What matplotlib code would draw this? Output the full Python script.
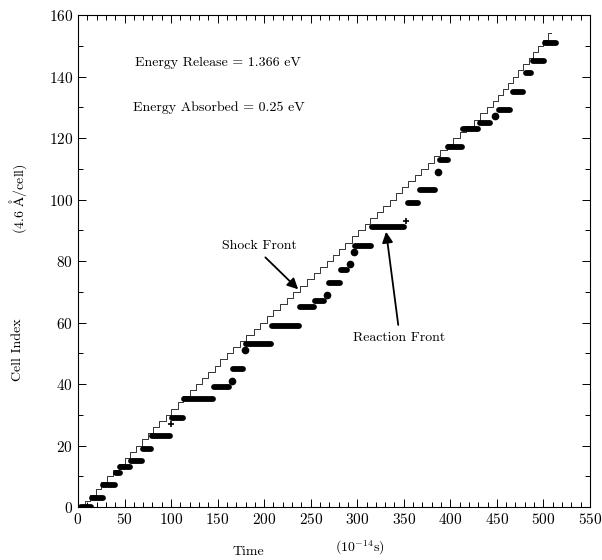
import matplotlib
matplotlib.use('Agg')
import matplotlib.pyplot as plt
from matplotlib.ticker import MultipleLocator

plt.rcParams['font.family'] = 'serif'
plt.rcParams['font.serif'] = ['cmr10', 'DejaVu Serif']
plt.rcParams['mathtext.fontset'] = 'cm'
plt.rcParams['axes.formatter.use_mathtext'] = True

# Shock front: time (1e-14 s) at which the front steps up to each cell index
SHOCK_T = [0, 7, 13, 19, 25, 31, 37.5, 44, 50, 56, 62.5, 69, 75, 81, 87.5, 94, 100,
           107, 113, 120, 127, 133, 140, 147, 153, 160, 167, 174, 181, 189, 196,
           203, 210, 217, 224, 231, 239, 246, 253, 260, 267, 274, 280, 287, 294,
           301, 308, 314, 321, 328, 335, 342, 348, 355, 362, 369, 376, 382, 389,
           396, 403, 410, 417, 425, 432, 439, 446, 451, 457, 462, 467, 473, 478,
           484, 489, 494, 500, 505]
SHOCK_CELL = list(range(0, 156, 2))

# Reaction front plateaus: cell index, start time, end time
PLATEAU_CELL = [0, 3, 7, 11, 13, 15, 19, 23, 29, 35, 39, 45, 53, 59, 65, 67, 73, 77,
                85, 91, 99, 103, 113, 117, 123, 125, 129, 135, 141, 145, 151]
PLATEAU_T0 = [3, 15, 27, 41, 45, 57, 70, 79, 101, 114, 146, 167, 181, 208, 239, 255,
              270, 282, 298, 316, 354, 367, 389, 397, 414, 432, 452, 467, 481, 489, 502]
PLATEAU_T1 = [14, 27, 40, 45, 56, 69, 78, 99, 113, 145, 162, 177, 207, 237, 254, 264,
              281, 289, 315, 350, 365, 384, 397, 412, 430, 443, 464, 478, 487, 501, 514]

# isolated reaction-front points
DOT_T = [165, 179, 268, 292, 296, 387, 448]
DOT_CELL = [41, 51, 69, 79, 83, 109, 127]
CROSS_T = [99.5, 352]
CROSS_CELL = [27, 93]

fig = plt.figure(figsize=(6.02, 5.6), dpi=100)
ax = fig.add_axes([0.1296, 0.0946, 0.8504, 0.8786])

# shock front staircase
ax.plot(SHOCK_T + [SHOCK_T[-1] + 3], SHOCK_CELL + [SHOCK_CELL[-1]],
        drawstyle='steps-post', color='#333333', linewidth=0.7)

# reaction front
for c, t0, t1 in zip(PLATEAU_CELL, PLATEAU_T0, PLATEAU_T1):
    ax.plot([t0, t1], [c, c], color='black', linewidth=4.2, solid_capstyle='round')
ax.plot(DOT_T, DOT_CELL, 'o', color='black', markersize=4.5)
ax.plot(CROSS_T, CROSS_CELL, '+', color='black', markersize=4, mew=1.2)

# annotations
ax.text(61, 144.5, 'Energy Release = 1.366 eV', fontsize=10, va='center', ha='left')
ax.text(59, 130, 'Energy Absorbed = 0.25 eV', fontsize=10, va='center', ha='left')
ax.annotate('Shock Front', xy=(236.5, 70.8), xytext=(195, 85),
            fontsize=10, ha='center', va='center',
            arrowprops=dict(arrowstyle='-|>', color='black', lw=1.3, relpos=(0.5, 0),
                            mutation_scale=16, shrinkA=3, shrinkB=0))
ax.annotate('Reaction Front', xy=(331, 89.5), xytext=(345, 55),
            fontsize=10, ha='center', va='center',
            arrowprops=dict(arrowstyle='-|>', color='black', lw=1.3, relpos=(0.5, 1),
                            mutation_scale=16, shrinkA=3, shrinkB=0))

ax.set_xlim(0, 550)
ax.set_ylim(0, 160)
ax.xaxis.set_major_locator(MultipleLocator(50))
ax.xaxis.set_minor_locator(MultipleLocator(10))
ax.yaxis.set_major_locator(MultipleLocator(20))
ax.yaxis.set_minor_locator(MultipleLocator(10))
ax.tick_params(which='both', direction='in', top=True, right=True,
               labelsize=11, width=0.7)
ax.tick_params(which='major', length=6)
ax.tick_params(which='minor', length=3.5)
for s in ax.spines.values():
    s.set_linewidth(0.8)

fig.text(0.413, 0.003, 'Time', fontsize=10, ha='center', va='bottom')
fig.text(0.598, 0.006, r'$(10^{-14}$s$)$', fontsize=10, ha='center', va='bottom')
fig.text(0.03, 0.375, 'Cell Index', fontsize=10, rotation=90, ha='center', va='center')
fig.text(0.03, 0.645, r'(4.6 $\mathrm{\AA}$/cell)', fontsize=10, rotation=90,
         ha='center', va='center')

fig.savefig('out.png', dpi=100)
